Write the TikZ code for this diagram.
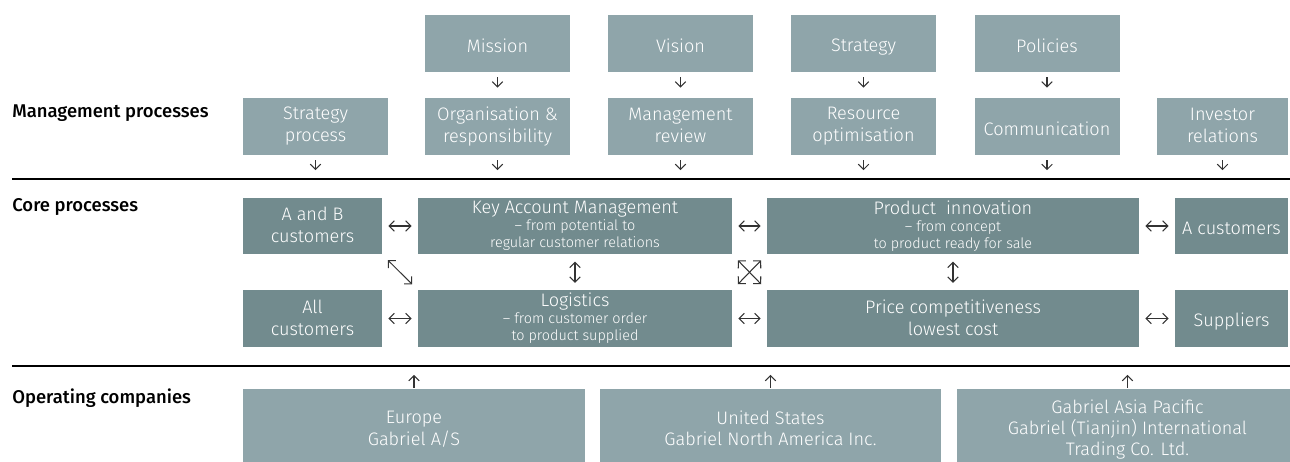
\documentclass[tikz,border=0pt]{standalone}
\usepackage{fontspec}
\setmainfont{Fira Sans}[BoldFont={Fira Sans Medium}]
\newfontfamily\lightfont{Fira Sans Light}
\usetikzlibrary{arrows.meta}
\definecolor{boxlight}{HTML}{8FA5AA}
\definecolor{boxdark}{HTML}{728B8E}
\definecolor{arrowgrey}{HTML}{333333}
\newcommand{\subtxt}{\fontsize{8.2}{9.6}\selectfont}
\newcommand{\boxstrut}{\rule[-1.3pt]{0pt}{12.8pt}}

\begin{document}
\begin{tikzpicture}[x=0.02cm, y=-0.02cm,
	boxtext/.style={text=white, inner sep=0pt, align=center, execute at begin node=\boxstrut, execute at end node=\boxstrut},
	mgmtbox/.style={boxtext, fill=boxlight, minimum width=2.9cm, minimum height=1.14cm, font=\lightfont\fontsize{10.3}{12.5}\selectfont},
	corebox/.style={boxtext, fill=boxdark, minimum height=1.13cm, font=\lightfont\fontsize{10.3}{12.5}\selectfont},
	tightbox/.style={corebox, font=\lightfont\fontsize{10.3}{9.6}\selectfont},
	companybox/.style={boxtext, fill=boxlight, minimum width=6.84cm, minimum height=1.62cm, font=\lightfont\fontsize{10.3}{12.2}\selectfont},
	heading/.style={anchor=west, inner sep=0pt, font=\fontsize{10.5}{12}\selectfont\bfseries},
	sepline/.style={draw=black, line width=0.7pt},
	conn/.style={draw=arrowgrey, line width=0.6pt, -{Straight Barb[length=3pt,width=6pt]}},
	twoway/.style={draw=arrowgrey, line width=0.6pt, {Straight Barb[length=3pt,width=6pt]}-{Straight Barb[length=3pt,width=6pt]}}]

	\useasboundingbox (0,0) rectangle (1290,461);

	\node [heading] (mgmthead) at (12, 113) {Management processes};
	\node [heading] (corehead) at (12, 207) {Core processes};
	\node [heading] (ophead) at (12, 398) {Operating companies};

	\coordinate (sepAl) at (12, 179);
	\coordinate (sepAr) at (1290, 179);
	\coordinate (sepBl) at (12, 366);
	\coordinate (sepBr) at (1290, 366);
	\draw [sepline] (sepAl) -- (sepAr);
	\draw [sepline] (sepBl) -- (sepBr);

	\node [mgmtbox] (mission) at (497.5, 43.5) {Mission};
	\node [mgmtbox] (vision) at (680.5, 43.5) {Vision};
	\node [mgmtbox] (strategy) at (863.5, 43.5) {Strategy};
	\node [mgmtbox] (policies) at (1047, 43.5) {Policies};

	\node [mgmtbox] (stratproc) at (315.5, 126.5) {Strategy\\process};
	\node [mgmtbox] (organisation) at (497.5, 126.5) {Organisation \&\\responsibility};
	\node [mgmtbox] (mgmtreview) at (680.5, 126.5) {Management\\review};
	\node [mgmtbox] (resource) at (863.5, 126.5) {Resource\\optimisation};
	\node [mgmtbox] (communication) at (1047, 126.5) {Communication};
	\node [mgmtbox, minimum width=2.62cm] (investor) at (1222.5, 126.5) {Investor\\relations};

	\draw [conn, shorten <=2.8pt, shorten >=5.7pt] (mission) -- (organisation);
	\draw [conn, shorten <=2.8pt, shorten >=5.7pt] (vision) -- (mgmtreview);
	\draw [conn, shorten <=2.8pt, shorten >=5.7pt] (strategy) -- (resource);
	\draw [conn, shorten <=2.8pt, shorten >=5.7pt] (policies) -- (communication);

	\foreach \src in {stratproc, organisation, mgmtreview, resource, communication, investor}
		\draw [conn, shorten <=2.8pt, shorten >=5pt] (\src.south) -- (\src.south |- sepAl);

	\node [corebox, minimum width=2.78cm] (abcust) at (312.5, 226) {A and B\\customers};
	\node [tightbox, minimum width=6.28cm] (keyaccount) at (575, 226) {Key Account Management\\\subtxt – from potential to\\\subtxt regular customer relations};
	\node [tightbox, minimum width=7.44cm] (innovation) at (953, 226) {Product\ \ innovation\\\subtxt – from concept\\\subtxt to product ready for sale};
	\node [corebox, minimum width=2.26cm] (acust) at (1231.5, 226) {A customers};

	\node [corebox, minimum width=2.78cm] (allcust) at (312.5, 318.5) {All\\customers};
	\node [tightbox, minimum width=6.28cm] (logistics) at (575, 318.5) {Logistics\\\subtxt – from customer order\\\subtxt to product supplied};
	\node [corebox, minimum width=7.44cm] (price) at (953, 318.5) {Price competitiveness\\lowest cost};
	\node [corebox, minimum width=2.26cm] (suppliers) at (1231.5, 318.5) {Suppliers};

	\draw [twoway, shorten <=3.4pt, shorten >=3.4pt] (abcust) -- (keyaccount);
	\draw [twoway, shorten <=3.4pt, shorten >=3.4pt] (keyaccount) -- (innovation);
	\draw [twoway, shorten <=3.4pt, shorten >=3.4pt] (innovation) -- (acust);
	\draw [twoway, shorten <=3.4pt, shorten >=3.4pt] (allcust) -- (logistics);
	\draw [twoway, shorten <=3.4pt, shorten >=3.4pt] (logistics) -- (price);
	\draw [twoway, shorten <=3.4pt, shorten >=3.4pt] (price) -- (suppliers);
	\draw [twoway, shorten <=4pt, shorten >=4pt] (keyaccount) -- (logistics);
	\draw [twoway, shorten <=4pt, shorten >=4pt] (innovation) -- (price);
	\draw [twoway, shorten <=4.5pt, shorten >=4.5pt] (abcust.south east) -- (logistics.north west);
	\draw [twoway, shorten <=4.5pt, shorten >=4.5pt] (keyaccount.south east) -- (price.north west);
	\draw [twoway, shorten <=4.5pt, shorten >=4.5pt] (innovation.south west) -- (logistics.north east);

	\node [companybox] (europe) at (414, 429.5) {Europe\\Gabriel A/S};
	\node [companybox] (usa) at (770.5, 429.5) {United States\\Gabriel North America Inc.};
	\node [companybox] (asia) at (1127.5, 429.5) {Gabriel Asia Pacific\\Gabriel (Tianjin) International\\Trading Co. Ltd.};

	\foreach \src in {europe, usa, asia}
		\draw [conn, shorten <=0.5pt, shorten >=5pt] (\src.north) -- (\src.north |- sepBl);

\end{tikzpicture}
\end{document}
